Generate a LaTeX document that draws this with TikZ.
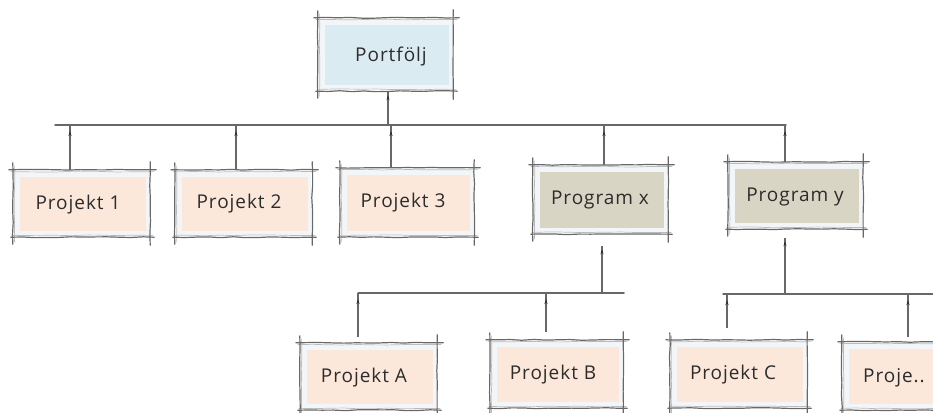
\documentclass[tikz,border=0pt]{standalone}
\usepackage{fontspec}
\newfontfamily\handfont[LetterSpace=5]{Open Sans}
\usetikzlibrary{decorations.pathmorphing,decorations.markings,arrows.meta}

\definecolor{blueC}{HTML}{DAEBF1}
\definecolor{peachC}{HTML}{FCE8DA}
\definecolor{khakiC}{HTML}{D9D5C4}
\definecolor{haloC}{HTML}{F2F6F9}
\definecolor{lineC}{HTML}{686868}
\definecolor{textC}{HTML}{2C2C2C}

\tikzset{
  x=1pt, y=-1pt,
  frameline/.style={draw=lineC, line width=1.2pt, line cap=round,
    decorate, decoration={random steps, segment length=12pt, amplitude=0.45pt}},
  frameline2/.style={draw=lineC!45, line width=0.7pt, line cap=round,
    decorate, decoration={random steps, segment length=15pt, amplitude=0.4pt}},
  boxframe/.style={rectangle, inner sep=0pt, draw=none},
  lbl/.style={font=\handfont\fontsize{19}{21}\selectfont, text=textC, inner sep=0pt},
  bus/.style={draw=lineC, line width=1.5pt, line cap=round},
  riser/.style={draw=lineC, line width=1.2pt, postaction={decorate},
    decoration={markings, mark=at position -#1 with {\arrow[textC]{Stealth[length=5pt,width=3pt]}}}},
}

% sketched box: name, frame x1, y1, x2, y2, fill colour, label x, label y, label
\newcommand\skbox[9]{%
  \pgfmathsetmacro\bxc{(#2+#4)/2}%
  \pgfmathsetmacro\byc{(#3+#5)/2}%
  \pgfmathsetmacro\bw{#4-#2}%
  \pgfmathsetmacro\bh{#5-#3}%
  \node[boxframe, minimum width=\bw pt, minimum height=\bh pt] (#1) at (\bxc,\byc) {};
  \fill[haloC] ([xshift=2pt,yshift=-2pt]#1.north west) rectangle ([xshift=-1pt,yshift=2pt]#1.south east);
  \fill[#6] ([xshift=7pt,yshift=-7pt]#1.north west) rectangle ([xshift=-4pt,yshift=6pt]#1.south east);
  \draw[frameline2] ([xshift=-2pt,yshift=-1.8pt]#1.north west) -- ([xshift=4pt,yshift=-1.8pt]#1.north east);
  \draw[frameline2] ([xshift=1.8pt,yshift=4pt]#1.north west) -- ([xshift=1.8pt,yshift=-5pt]#1.south west);
  \draw[frameline2] ([xshift=-1pt,yshift=1.8pt]#1.south west) -- ([xshift=3pt,yshift=1.8pt]#1.south east);
  \draw[frameline] ([xshift=-4pt]#1.north west) -- ([xshift=6pt]#1.north east);
  \draw[frameline] ([xshift=-2pt]#1.south west) -- ([xshift=4pt]#1.south east);
  \draw[frameline] ([yshift=7pt]#1.north west) -- ([yshift=-7pt]#1.south west);
  \draw[frameline] ([yshift=8pt]#1.north east) -- ([yshift=-8pt]#1.south east);
  \node[lbl] (#1-t) at (#7,#8) {#9};
}

\begin{document}
\begin{tikzpicture}
\pgfmathsetseed{7}
\useasboundingbox (0,0) rectangle (933,412);
\clip (0,0) rectangle (933,412);
\fill[white] (0,0) rectangle (933,412);

% boxes
\skbox{port}{318}{18}{453}{91}{blueC}{391}{57}{Portfölj}
\skbox{p1}{13}{170}{150}{237}{peachC}{78}{205}{Projekt 1}
\skbox{p2}{175}{170}{312}{237}{peachC}{239}{204}{Projekt 2}
\skbox{p3}{340}{168}{474}{237}{peachC}{403}{203}{Projekt 3}
\skbox{px}{533}{165}{668}{234}{khakiC}{600}{200}{Program x}
\skbox{py}{728}{162}{863}{229}{khakiC}{795}{197}{Program y}
\skbox{pa}{300}{343}{437}{410}{peachC}{364}{378}{Projekt A}
\skbox{pb}{490}{340}{623}{408}{peachC}{553}{375}{Projekt B}
\skbox{pc}{670}{340}{807}{408}{peachC}{733}{375}{Projekt C}
\skbox{pd}{842}{342}{980}{410}{peachC}{894}{378}{Proje..}

% bus lines
\coordinate (b1l) at (55,125);
\coordinate (b1r) at (786,125);
\coordinate (b2l) at (358,293);
\coordinate (b2r) at (624,293);
\coordinate (b3l) at (723,294);
\coordinate (b3r) at (940,294);
\draw[bus] (b1l) -- (b1r);
\draw[bus] (b2l) -- (b2r);
\draw[bus] (b3l) -- (b3r);

% Portfölj to the top bus
\coordinate (d0) at ([xshift=2.5pt,yshift=-1pt]port.south);
\draw[riser=3pt] (d0 |- b1l) -- (d0);

% first row up to the top bus
\coordinate (d1) at ([xshift=-11.5pt]p1.north);
\coordinate (d2) at ([xshift=-7.5pt]p2.north);
\coordinate (d3) at ([xshift=-16pt]p3.north);
\coordinate (d4) at ([xshift=3.5pt]px.north);
\coordinate (d5) at ([xshift=-10.5pt]py.north);
\foreach \d in {d1,d2,d3,d4,d5}
  \draw[riser=6pt] (\d) -- (\d |- b1l);

% programmes to their lower buses
\coordinate (d6) at ([xshift=1.5pt,yshift=-12pt]px.south);
\coordinate (d7) at ([xshift=-10.5pt,yshift=-9pt]py.south);
\draw[riser=3pt] (d6 |- b2l) -- (d6);
\draw[riser=3pt] (d7 |- b3l) -- (d7);

% second row up to the lower buses
\coordinate (d8) at ([xshift=-10.5pt,yshift=6pt]pa.north);
\coordinate (d9) at ([xshift=-10.5pt,yshift=8pt]pb.north);
\coordinate (d10) at ([xshift=-11.5pt,yshift=12pt]pc.north);
\coordinate (d11) at ([xshift=-3pt,yshift=5pt]pd.north);
\draw[riser=6pt] (d8) -- (d8 |- b2l);
\draw[riser=6pt] (d9) -- (d9 |- b2l);
\draw[riser=6pt] (d10) -- (d10 |- b3l);
\draw[riser=6pt] (d11) -- (d11 |- b3l);
\end{tikzpicture}
\end{document}
